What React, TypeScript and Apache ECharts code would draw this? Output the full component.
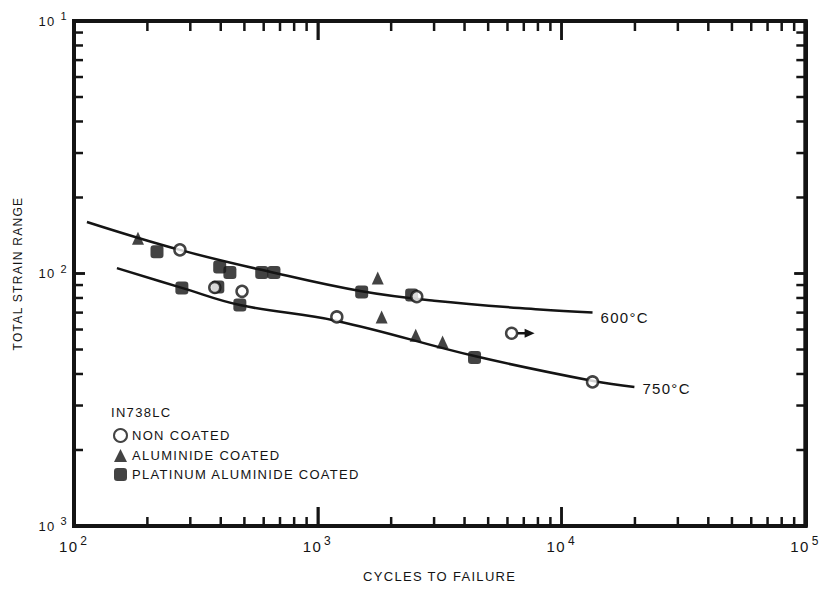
import React, { useEffect, useRef } from 'react';
import * as echarts from 'echarts';

// Axis ranges (log scales)
const xRange = [100, 100000];
const yRange = [0.001, 0.1];

// Tick positions
const xMajorTicks = [1000, 10000];
const yMajorTicks = [0.01];
const xMinorTicks = [
  200, 300, 400, 500, 600, 700, 800, 900,
  2000, 3000, 4000, 5000, 6000, 7000, 8000, 9000,
  20000, 30000, 40000, 50000, 60000, 70000, 80000, 90000,
];
const yMinorTicks = [
  0.002, 0.003, 0.004, 0.005, 0.006, 0.007, 0.008, 0.009,
  0.02, 0.03, 0.04, 0.05, 0.06, 0.07, 0.08, 0.09,
];

// Fitted curves [cycles, strain range]
const curve600 = [
  [113, 0.016], [272, 0.0124], [624, 0.0102], [1514, 0.0085],
  [3000, 0.0078], [8130, 0.0072], [13400, 0.007],
];
const curve750 = [
  [150, 0.0105], [277, 0.00877], [479, 0.0075], [1197, 0.00649],
  [4396, 0.00471], [13500, 0.00375], [19900, 0.00355],
];

// Test points [cycles, strain range]
const nonCoated = [
  [272, 0.0124], [378, 0.0088], [489, 0.0085], [1197, 0.00673],
  [2547, 0.0081], [6240, 0.0058], [13400, 0.00372],
];
const aluminideCoated = [
  [183, 0.0138], [1762, 0.0096], [1828, 0.00673], [2522, 0.0057], [3251, 0.00536],
];
const platinumAluminideCoated = [
  [219, 0.0122], [277, 0.00877], [396, 0.0106], [436, 0.0101], [389, 0.00885],
  [479, 0.0075], [589, 0.0101], [661, 0.0101], [1514, 0.00845], [2427, 0.00822],
  [4396, 0.00465],
];
// Run-out (test not failed) point
const runOut = [6240, 0.0058];

const seriesNames = ['NON COATED', 'ALUMINIDE COATED', 'PLATINUM ALUMINIDE COATED'];
const curveLabels = ['600°C', '750°C'];

const INK = '#141414';
const FONT = 'Liberation Sans';

const expOf = (v: number) => Math.round(Math.log10(v));

export default function App() {
  const ref = useRef<HTMLDivElement>(null);

  useEffect(() => {
    if (!ref.current) return;
    const chart = echarts.init(ref.current, undefined, { renderer: 'svg' });

    chart.setOption({
      animation: false,
      textStyle: { fontFamily: FONT, color: INK },
      title: {
        text: 'IN738LC',
        left: 106,
        top: 401,
        textStyle: { fontSize: 13, fontWeight: 'normal', color: INK, fontFamily: FONT },
      },
      legend: {
        data: seriesNames,
        orient: 'vertical',
        left: 108,
        top: 423,
        itemWidth: 13,
        itemHeight: 13,
        itemGap: 6,
        textStyle: { fontSize: 13, color: INK, fontFamily: FONT },
        selectedMode: false,
      },
      grid: { left: 74, right: 16, top: 21, bottom: 67 },
      xAxis: [
        {
          type: 'log',
          min: xRange[0],
          max: xRange[1],
          splitLine: { show: false },
          axisLine: { show: true, lineStyle: { color: INK, width: 4 } },
          axisTick: { show: true, inside: true, length: 19, lineStyle: { color: INK, width: 2.5 } },
          name: 'CYCLES TO FAILURE',
          nameLocation: 'middle',
          nameGap: 44,
          nameTextStyle: { fontSize: 13, color: INK, fontFamily: FONT },
          axisLabel: {
            margin: 9,
            formatter: (v: number) => `{b|10}{s|${expOf(v)}}`,
            rich: {
              b: { fontSize: 15, color: INK, fontFamily: FONT },
              s: { fontSize: 12, color: INK, fontFamily: FONT, padding: [0, 0, 11, 4] },
            },
          },
        },
        {
          type: 'log',
          position: 'top',
          min: xRange[0],
          max: xRange[1],
          splitLine: { show: false },
          axisLine: { show: true, lineStyle: { color: INK, width: 4 } },
          axisTick: { show: true, inside: true, length: 19, lineStyle: { color: INK, width: 2.5 } },
          axisLabel: { show: false },
        },
      ],
      yAxis: [
        {
          type: 'log',
          min: yRange[0],
          max: yRange[1],
          splitLine: { show: false },
          axisLine: { show: true, lineStyle: { color: INK, width: 4 } },
          axisTick: { show: true, inside: true, length: 11, lineStyle: { color: INK, width: 2.5 } },
          name: 'TOTAL STRAIN RANGE',
          nameLocation: 'middle',
          nameGap: 50,
          nameRotate: 90,
          nameTextStyle: { fontSize: 12, color: INK, fontFamily: FONT },
          axisLabel: {
            margin: 6,
            formatter: (v: number) => `{b|10} {s|${-expOf(v)}}`,
            rich: {
              b: { fontSize: 13, color: INK, fontFamily: FONT },
              s: { fontSize: 11, color: INK, fontFamily: FONT, padding: [0, 0, 10, 3] },
            },
          },
        },
        {
          type: 'log',
          position: 'right',
          min: yRange[0],
          max: yRange[1],
          splitLine: { show: false },
          axisLine: { show: true, lineStyle: { color: INK, width: 4 } },
          axisTick: { show: true, inside: true, length: 11, lineStyle: { color: INK, width: 2.5 } },
          axisLabel: { show: false },
        },
      ],
      series: [
        {
          type: 'line',
          name: curveLabels[0],
          data: curve600,
          smooth: 0.4,
          symbol: 'none',
          clip: false,
          lineStyle: { color: INK, width: 2.5 },
          endLabel: {
            show: true,
            formatter: curveLabels[0],
            distance: 8,
            offset: [0, 5],
            fontSize: 15,
            color: INK,
            fontFamily: FONT,
          },
        },
        {
          type: 'line',
          name: curveLabels[1],
          data: curve750,
          smooth: 0.4,
          symbol: 'none',
          clip: false,
          lineStyle: { color: INK, width: 2.5 },
          endLabel: {
            show: true,
            formatter: curveLabels[1],
            distance: 8,
            offset: [0, 1],
            fontSize: 15,
            color: INK,
            fontFamily: FONT,
          },
        },
        {
          type: 'scatter',
          name: seriesNames[2],
          data: platinumAluminideCoated,
          symbol: 'roundRect',
          symbolSize: 13,
          clip: false,
          itemStyle: { color: INK },
          z: 3,
        },
        {
          type: 'scatter',
          name: seriesNames[1],
          data: aluminideCoated,
          symbol: 'triangle',
          symbolSize: [12, 13],
          clip: false,
          itemStyle: { color: INK },
          z: 3,
        },
        {
          type: 'scatter',
          name: seriesNames[0],
          data: nonCoated,
          symbol: 'circle',
          symbolSize: 11,
          clip: false,
          itemStyle: { color: '#ffffff', borderColor: INK, borderWidth: 2.5 },
          z: 4,
        },
      ],
    });

    // Frame, ticks and run-out arrow placed through the chart's own log scales
    const px = (v: number) => chart.convertToPixel({ xAxisIndex: 0 }, v) as number;
    const py = (v: number) => chart.convertToPixel({ yAxisIndex: 0 }, v) as number;
    const x0 = px(xRange[0]);
    const x1 = px(xRange[1]);
    const yb = py(yRange[0]);
    const yt = py(yRange[1]);
    const seg = (a: number, b: number, c: number, d: number, w: number) => ({
      type: 'line',
      silent: true,
      z: 100,
      shape: { x1: a, y1: b, x2: c, y2: d },
      style: { stroke: INK, lineWidth: w },
    });
    const g: any[] = [
      seg(x0 - 2, yb, x1 + 2, yb, 4),
      seg(x0 - 2, yt, x1 + 2, yt, 4),
      seg(x0, yt - 2, x0, yb + 2, 4),
      seg(x1, yt - 2, x1, yb + 2, 4),
    ];
    xMinorTicks.forEach((v) => {
      const x = px(v);
      g.push(seg(x, yb, x, yb - 9, 2.5));
      g.push(seg(x, yt, x, yt + 10, 2.5));
    });
    xMajorTicks.forEach((v) => {
      const x = px(v);
      g.push(seg(x, yb, x, yb - 19, 2.5));
      g.push(seg(x, yt, x, yt + 19, 2.5));
    });
    yMinorTicks.forEach((v) => {
      const y = py(v);
      g.push(seg(x0, y, x0 + 9, y, 2.5));
      g.push(seg(x1, y, x1 - 9, y, 2.5));
    });
    yMajorTicks.forEach((v) => {
      const y = py(v);
      g.push(seg(x0, y, x0 + 11, y, 2.5));
      g.push(seg(x1, y, x1 - 11, y, 2.5));
    });
    const ax = px(runOut[0]);
    const ay = py(runOut[1]);
    g.push(seg(ax + 6, ay, ax + 15, ay, 2.5));
    g.push({
      type: 'polygon',
      silent: true,
      z: 100,
      shape: { points: [[ax + 13, ay - 4.5], [ax + 23, ay], [ax + 13, ay + 4.5]] },
      style: { fill: INK },
    });
    chart.setOption({ graphic: g });

    return () => chart.dispose();
  }, []);

  return (
    <>
      <style>{'#chart-root text { letter-spacing: 1.3px; }'}</style>
      <div
        id="chart-root"
        ref={ref}
        style={{ position: 'absolute', left: 0, top: 0, width: 822, height: 593, background: '#fff' }}
      />
    </>
  );
}
